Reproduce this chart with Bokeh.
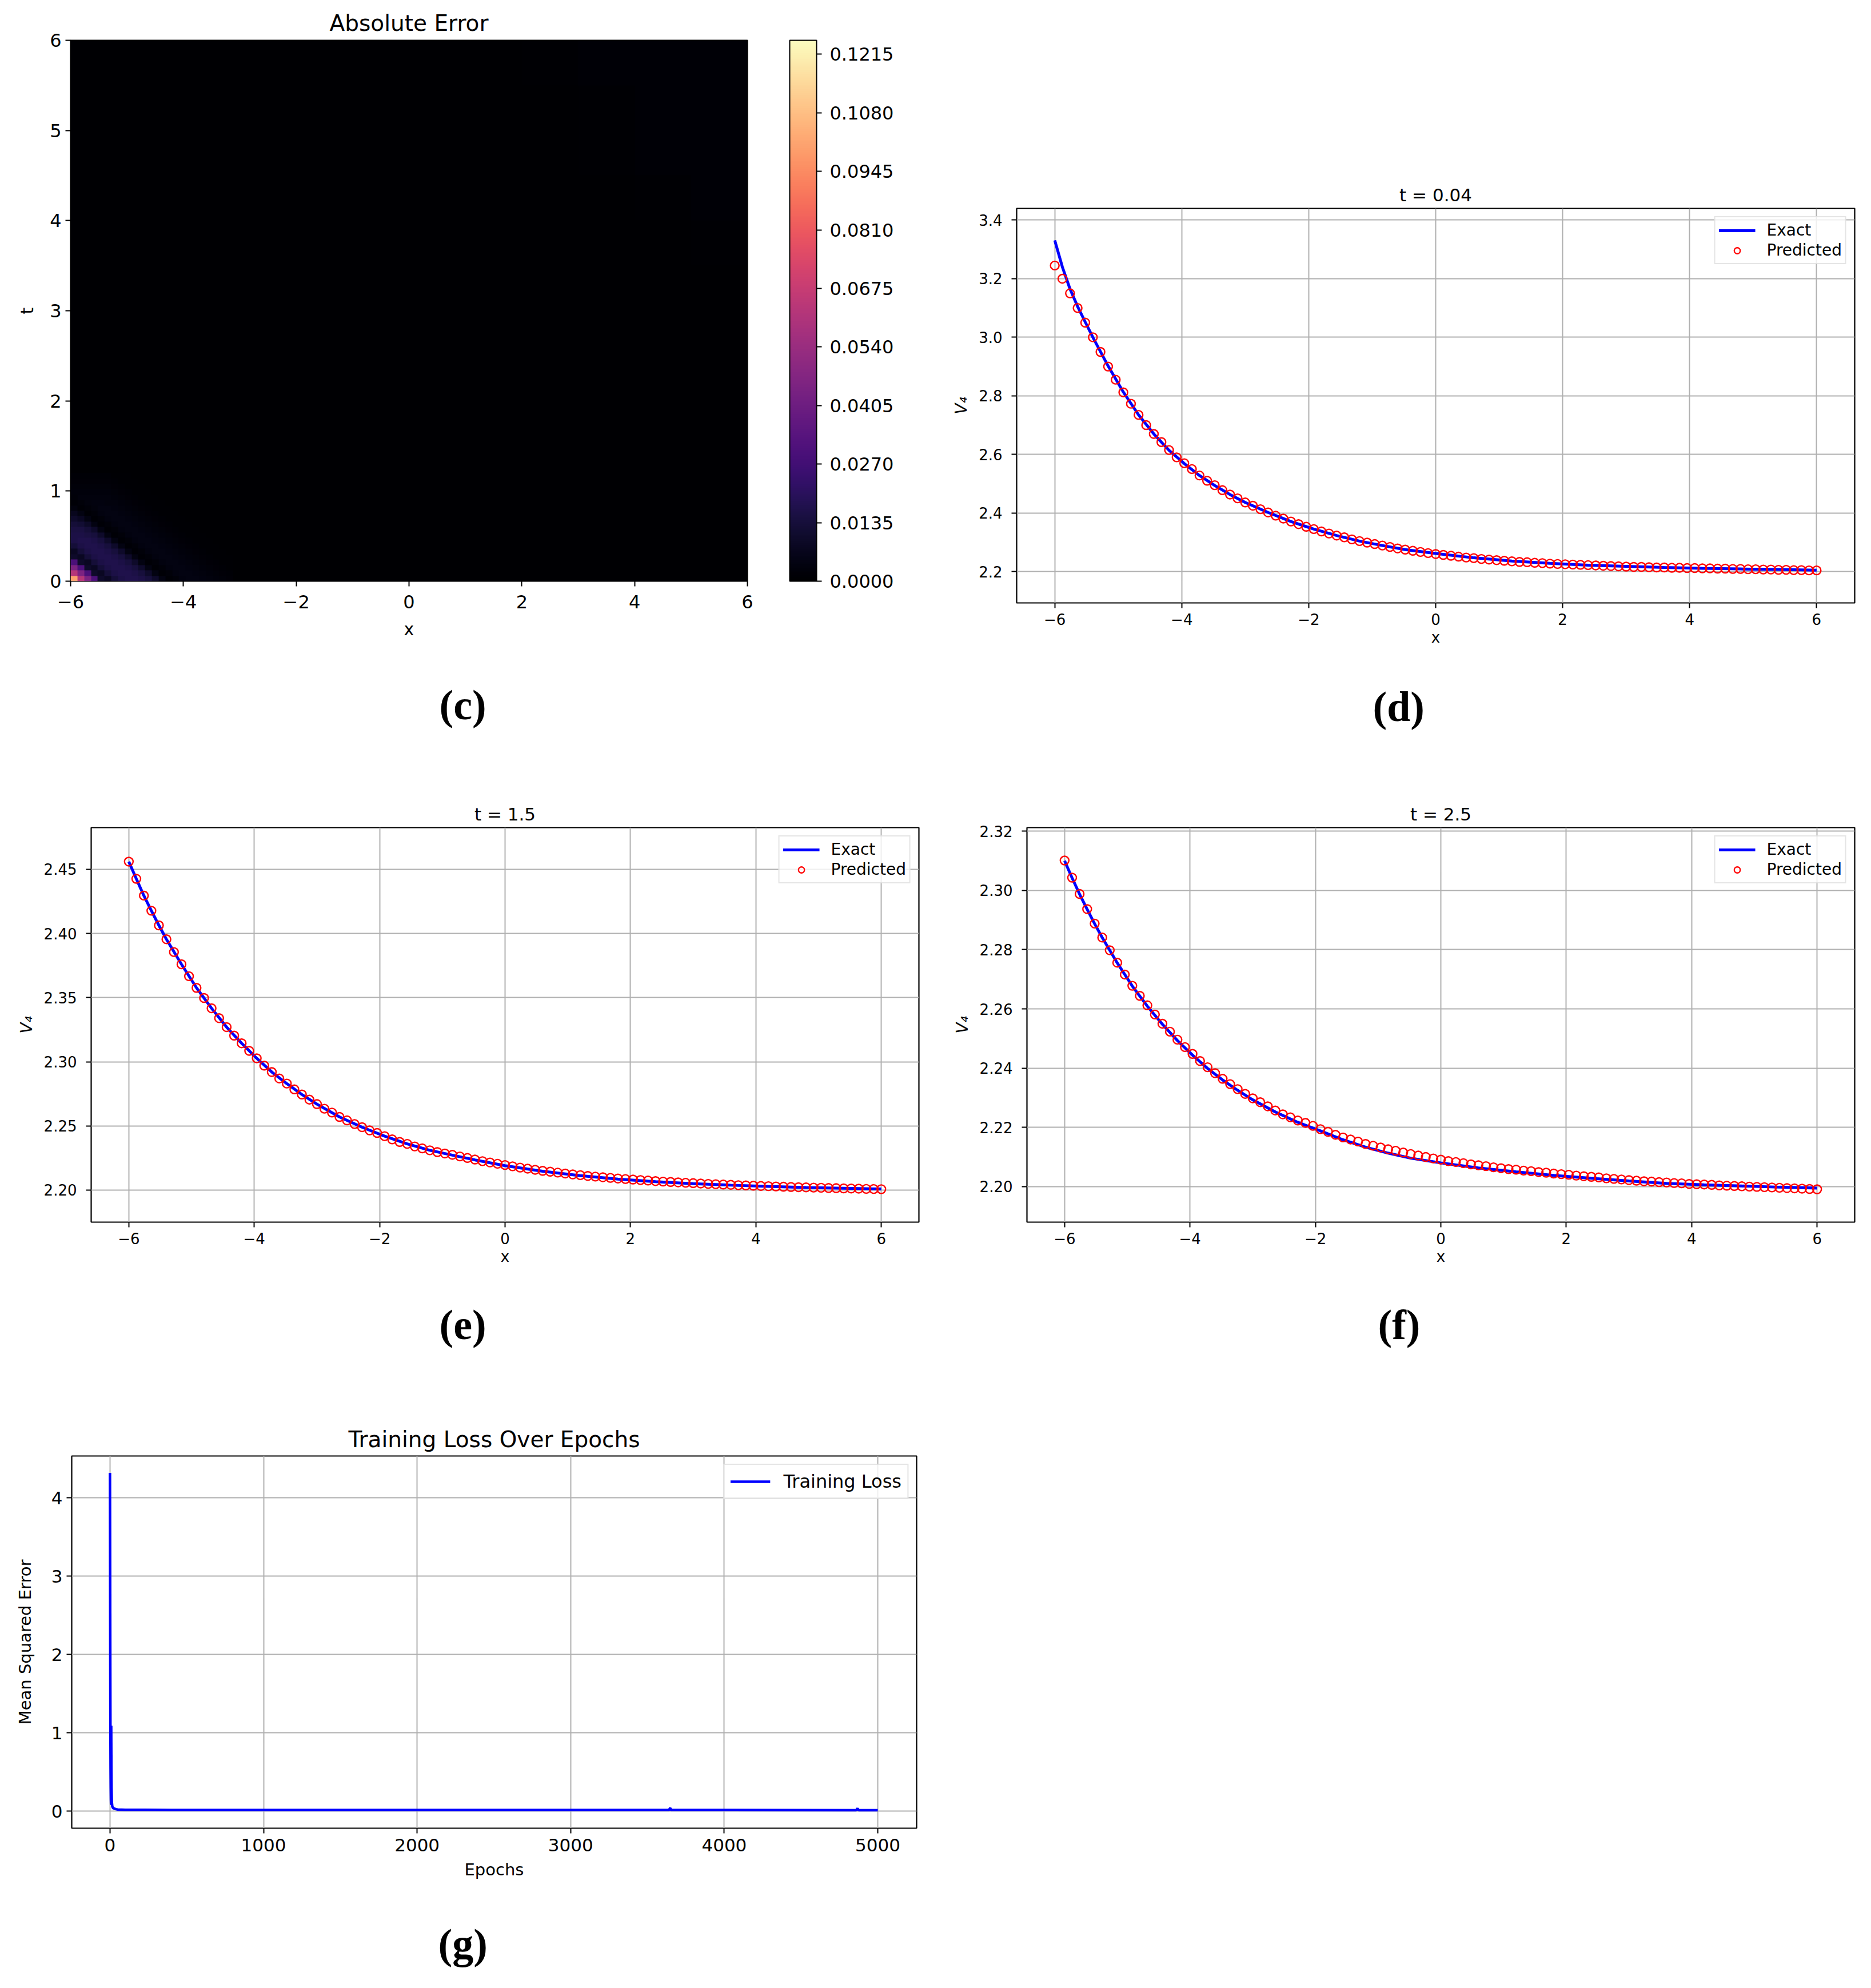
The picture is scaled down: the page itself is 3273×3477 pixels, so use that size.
# Absolute error map, V4 profiles at three times and the training loss
import numpy as np
from bokeh.embed import file_html
from bokeh.layouts import column, row
from bokeh.models import ColorBar, FixedTicker, Legend, LegendItem, LinearColorMapper, Range1d, Title
from bokeh.palettes import Magma256
from bokeh.plotting import figure
from bokeh.resources import INLINE

FONT = "DejaVu Sans"

# axis ticks
x_ticks = [-6, -4, -2, 0, 2, 4, 6]
x_labels = ["\u22126", "\u22124", "\u22122", "0", "2", "4", "6"]
t_ticks = [0, 1, 2, 3, 4, 5, 6]
t_labels = ["0", "1", "2", "3", "4", "5", "6"]
cbar_ticks = [0.0, 0.0135, 0.027, 0.0405, 0.054, 0.0675, 0.081, 0.0945, 0.108, 0.1215]
cbar_labels = ["0.0000", "0.0135", "0.0270", "0.0405", "0.0540", "0.0675", "0.0810", "0.0945", "0.1080", "0.1215"]
d_ticks = [2.2, 2.4, 2.6, 2.8, 3.0, 3.2, 3.4]
d_labels = ["2.2", "2.4", "2.6", "2.8", "3.0", "3.2", "3.4"]
e_ticks = [2.2, 2.25, 2.3, 2.35, 2.4, 2.45]
e_labels = ["2.20", "2.25", "2.30", "2.35", "2.40", "2.45"]
f_ticks = [2.2, 2.22, 2.24, 2.26, 2.28, 2.3, 2.32]
f_labels = ["2.20", "2.22", "2.24", "2.26", "2.28", "2.30", "2.32"]
g_x_ticks = [0, 1000, 2000, 3000, 4000, 5000]
g_x_labels = ["0", "1000", "2000", "3000", "4000", "5000"]
g_y_ticks = [0, 1, 2, 3, 4]
g_y_labels = ["0", "1", "2", "3", "4"]

# absolute error, in thousandths: whole domain, 1 x 0.5 cells, rows from t=0 up
error_coarse = [
    [.3, .3, .3, .3, .3, .3, .3, .3, .3, .3, .3, .3],
    [.3, .3, .3, .3, .3, .3, .3, .3, .3, .3, .3, .3],
    [.3, .3, .3, .3, .3, .3, .3, .3, .3, .3, .3, .3],
    [.3, .3, .3, .3, .3, .3, .3, .3, .3, .3, .3, .3],
    [.3, .3, .3, .3, .3, .3, .3, .3, .3, .3, .3, .3],
    [.3, .3, .3, .3, .3, .3, .3, .3, .3, .3, .3, .3],
    [.3, .3, .3, .3, .3, .3, .3, .3, .3, .3, .3, .3],
    [.3, .3, .3, .3, .3, .3, .3, .3, .3, .3, .3, .9],
    [.3, .3, .3, .3, .3, .3, .3, .3, .3, .3, .9, 1.],
    [.3, .3, .3, .3, .3, .3, .3, .3, .3, .9, 1., 1.],
    [.3, .3, .3, .3, .3, .3, .3, .3, .3, .9, 1., 1.],
    [.3, .3, .3, .3, .3, .3, .3, .3, .9, 1., 1., 1.],
]
# corner of the error map, in thousandths: 0.12 x 0.06 cells from x=-6, t=0
error_corner = [
    [100, 62, 45, 30, 10, 8, 13, 16, 17, 17, 16, 14, 10, 4, 1, 2, 3.5, 4, 4, 3.5, 3, 2.5, 2, 1.5],
    [62, 45, 30, 10, 8, 13, 16, 17, 17, 16, 14, 10, 4, 1, 2, 3.5, 4, 4, 3.5, 3, 2.5, 2, 1.5, 1],
    [45, 30, 10, 8, 13, 16, 17, 17, 16, 14, 10, 4, 1, 2, 3.5, 4, 4, 3.5, 3, 2.5, 2, 1.5, 1, .8],
    [30, 10, 8, 13, 16, 17, 17, 16, 14, 10, 4, 1, 2, 3.5, 4, 4, 3.5, 3, 2.5, 2, 1.5, 1, .8, .6],
    [10, 8, 13, 16, 17, 17, 16, 14, 10, 4, 1, 2, 3.5, 4, 4, 3.5, 3, 2.5, 2, 1.5, 1, .8, .6, .5],
    [8, 13, 16, 17, 17, 16, 14, 10, 4, 1, 2, 3.5, 4, 4, 3.5, 3, 2.5, 2, 1.5, 1, .8, .6, .5, .4],
    [13, 16, 17, 17, 16, 14, 10, 4, 1, 2, 3.5, 4, 4, 3.5, 3, 2.5, 2, 1.5, 1, .8, .6, .5, .4, .4],
    [16, 17, 17, 16, 14, 10, 4, 1, 2, 3.5, 4, 4, 3.5, 3, 2.5, 2, 1.5, 1, .8, .6, .5, .4, .4, .4],
    [16, 16, 15, 14, 10, 4, 1, 2, 3.5, 4, 4, 3.5, 3, 2.5, 2, 1.5, 1, .8, .6, .5, .4, .4, .4, .3],
    [15, 15, 13, 10, 4, 1, 2, 3.5, 4, 4, 3.5, 3, 2.5, 2, 1.5, 1, .8, .6, .5, .4, .4, .4, .3, .3],
    [13, 12, 9, 4, 1, 2, 3.5, 4, 4, 3.5, 3, 2.5, 2, 1.5, 1, .8, .6, .5, .4, .4, .4, .3, .3, .3],
    [10, 8, 4, 1, 2, 3.5, 4, 4, 3.5, 3, 2.5, 2, 1.5, 1, .8, .6, .5, .4, .4, .4, .3, .3, .3, .3],
    [7, 4, 1, 2, 3.5, 4, 4, 3.5, 3, 2.5, 2, 1.5, 1, .8, .6, .5, .4, .4, .4, .3, .3, .3, .3, .3],
    [3, 1, 2, 3, 4, 4, 3.5, 3, 2.5, 2, 1.5, 1, .8, .6, .5, .4, .4, .4, .3, .3, .3, .3, .3, .3],
    [1, 2, 3, 3.5, 3.5, 3, 3, 2.5, 2, 1.5, 1, .8, .6, .5, .4, .4, .4, .3, .3, .3, .3, .3, .3, .3],
    [2, 3, 3, 3, 3, 3, 2.5, 2, 1.5, 1, .8, .6, .5, .4, .4, .4, .3, .3, .3, .3, .3, .3, .3, .3],
    [2.5, 2.5, 2.5, 2.5, 2.5, 2.5, 2, 1.5, 1, .8, .6, .5, .4, .4, .4, .3, .3, .3, .3, .3, .3, .3, .3, .3],
    [2, 2, 2, 2, 2, 2, 1.5, 1, .8, .6, .5, .4, .4, .4, .3, .3, .3, .3, .3, .3, .3, .3, .3, .3],
    [1.5, 1.5, 1.5, 1.5, 1.5, 1.5, 1, .8, .6, .5, .4, .4, .4, .3, .3, .3, .3, .3, .3, .3, .3, .3, .3, .3],
    [1, 1, 1, 1, 1, 1, .8, .6, .5, .4, .4, .4, .3, .3, .3, .3, .3, .3, .3, .3, .3, .3, .3, .3],
]

# predicted points: x grid shared by panels d, e, f
x_pred = [
    -6.0, -5.88, -5.76, -5.64, -5.52, -5.4, -5.28, -5.16, -5.04, -4.92, -4.8, -4.68, -4.56, -4.44, -4.32, -4.2, -4.08,
    -3.96, -3.84, -3.72, -3.6, -3.48, -3.36, -3.24, -3.12, -3.0, -2.88, -2.76, -2.64, -2.52, -2.4, -2.28, -2.16, -2.04,
    -1.92, -1.8, -1.68, -1.56, -1.44, -1.32, -1.2, -1.08, -0.96, -0.84, -0.72, -0.6, -0.48, -0.36, -0.24, -0.12, 0.0,
    0.12, 0.24, 0.36, 0.48, 0.6, 0.72, 0.84, 0.96, 1.08, 1.2, 1.32, 1.44, 1.56, 1.68, 1.8, 1.92, 2.04,
    2.16, 2.28, 2.4, 2.52, 2.64, 2.76, 2.88, 3.0, 3.12, 3.24, 3.36, 3.48, 3.6, 3.72, 3.84, 3.96, 4.08,
    4.2, 4.32, 4.44, 4.56, 4.68, 4.8, 4.92, 5.04, 5.16, 5.28, 5.4, 5.52, 5.64, 5.76, 5.88, 6.0,
]
pred_d = [
    3.245, 3.2, 3.15, 3.1, 3.05, 3.0, 2.95, 2.9, 2.855, 2.812, 2.773, 2.735, 2.7, 2.67, 2.642, 2.615, 2.59,
    2.57, 2.55, 2.528, 2.51, 2.495, 2.478, 2.463, 2.45, 2.436, 2.425, 2.413, 2.402, 2.391, 2.381, 2.371, 2.362, 2.353,
    2.345, 2.337, 2.33, 2.323, 2.317, 2.31, 2.304, 2.299, 2.294, 2.289, 2.284, 2.279, 2.275, 2.271, 2.267, 2.263, 2.26,
    2.257, 2.254, 2.251, 2.248, 2.246, 2.243, 2.241, 2.239, 2.237, 2.235, 2.233, 2.232, 2.23, 2.229, 2.227, 2.226, 2.225,
    2.224, 2.223, 2.222, 2.221, 2.22, 2.219, 2.218, 2.217, 2.216, 2.216, 2.215, 2.214, 2.214, 2.213, 2.213, 2.212, 2.212,
    2.211, 2.211, 2.21, 2.21, 2.209, 2.209, 2.208, 2.208, 2.207, 2.207, 2.206, 2.206, 2.205, 2.205, 2.204, 2.204,
]
pred_e = [
    2.456, 2.4426, 2.4295, 2.4177, 2.4063, 2.3955, 2.3855, 2.376, 2.3667, 2.3576, 2.3497, 2.3417, 2.334, 2.327, 2.3204, 2.3144, 2.3085,
    2.3027, 2.297, 2.292, 2.287, 2.283, 2.2785, 2.2745, 2.2705, 2.267, 2.2634, 2.2604, 2.257, 2.2543, 2.2515, 2.249, 2.2465, 2.2445,
    2.242, 2.2395, 2.2375, 2.236, 2.234, 2.2325, 2.231, 2.2296, 2.2285, 2.2275, 2.2262, 2.225, 2.2238, 2.2225, 2.2215, 2.2205, 2.2195,
    2.2185, 2.2175, 2.2167, 2.2158, 2.215, 2.2143, 2.2136, 2.2129, 2.2122, 2.2116, 2.211, 2.2105, 2.21, 2.2095, 2.209, 2.2086, 2.2082,
    2.2078, 2.2074, 2.207, 2.2066, 2.2063, 2.206, 2.2057, 2.2054, 2.2051, 2.2048, 2.2046, 2.2043, 2.2041, 2.2038, 2.2036, 2.2034, 2.2032,
    2.203, 2.2028, 2.2026, 2.2024, 2.2022, 2.2021, 2.2019, 2.2018, 2.2016, 2.2015, 2.2013, 2.2012, 2.2011, 2.2009, 2.2008, 2.2007,
]
pred_f = [
    2.3101, 2.3043, 2.2988, 2.2937, 2.2888, 2.2841, 2.2798, 2.2756, 2.2716, 2.2678, 2.2644, 2.2612, 2.2581, 2.255, 2.2523, 2.2496, 2.2471,
    2.2448, 2.2424, 2.2403, 2.2383, 2.2364, 2.2346, 2.2329, 2.2313, 2.2298, 2.2285, 2.2271, 2.2257, 2.2244, 2.2234, 2.2223, 2.2215, 2.2205,
    2.2194, 2.2185, 2.2175, 2.2166, 2.2159, 2.2152, 2.2144, 2.2138, 2.2132, 2.2126, 2.2121, 2.2115, 2.211, 2.2105, 2.21, 2.2095, 2.2091,
    2.2086, 2.2083, 2.2079, 2.2075, 2.2072, 2.2069, 2.2065, 2.2062, 2.2059, 2.2057, 2.2054, 2.2052, 2.2049, 2.2047, 2.2044, 2.2042, 2.204,
    2.2037, 2.2035, 2.2033, 2.2031, 2.2028, 2.2026, 2.2024, 2.2022, 2.202, 2.2018, 2.2017, 2.2015, 2.2014, 2.2012, 2.2011, 2.2009, 2.2008,
    2.2007, 2.2006, 2.2004, 2.2003, 2.2002, 2.2001, 2.2, 2.1999, 2.1998, 2.1997, 2.1996, 2.1995, 2.1994, 2.1993, 2.1992, 2.1991,
]

# exact curves
x_exact = [
    -6.0, -5.88, -5.76, -5.64, -5.52, -5.4, -5.16, -4.92, -4.68, -4.44, -4.2, -3.96, -3.72, -3.48, -3.24, -3.0,
    -2.64, -2.28, -1.92, -1.56, -1.2, -0.84, -0.48, 0.0, 0.6, 1.2, 1.8, 2.4, 3.0, 3.6, 4.2, 4.8, 5.4, 6.0,
]
exact_d = [
    3.331, 3.24, 3.165, 3.105, 3.052, 3.0, 2.902, 2.813, 2.735, 2.67, 2.614, 2.569, 2.528, 2.494, 2.463, 2.436,
    2.402, 2.371, 2.345, 2.323, 2.304, 2.289, 2.275, 2.262, 2.247, 2.236, 2.228, 2.222, 2.218, 2.214, 2.211, 2.209, 2.207, 2.205,
]
exact_e = [
    2.456, 2.4426, 2.4295, 2.4177, 2.4063, 2.3955, 2.376, 2.3576, 2.3417, 2.327, 2.3144, 2.3027, 2.292, 2.283, 2.2745, 2.267,
    2.257, 2.249, 2.242, 2.236, 2.231, 2.2272, 2.2235, 2.219, 2.2147, 2.2112, 2.2085, 2.2065, 2.205, 2.2038, 2.2028, 2.202, 2.2014, 2.2008,
]
exact_f = [
    2.31, 2.3042, 2.2987, 2.2936, 2.2887, 2.2841, 2.2755, 2.2677, 2.2609, 2.2548, 2.2493, 2.2444, 2.2399, 2.236, 2.2325, 2.2293,
    2.2252, 2.2217, 2.2188, 2.2158, 2.2133, 2.2113, 2.2096, 2.208, 2.2063, 2.205, 2.2038, 2.2028, 2.2019, 2.2011, 2.2006, 2.2002, 2.1998, 2.1995,
]

# training loss
epochs = [0, 1, 2, 3, 4, 5, 6, 7, 8, 9, 10, 12, 15, 20, 30, 50, 100, 200, 400, 800, 1500, 2500, 3640, 3648, 3655, 4000, 4860, 4868, 4875, 5000]
loss = [4.32, 3.1, 1.9, 1.0, 0.55, 0.3, 0.15, 0.08, 1.09, 0.55, 0.3, 0.12, 0.06, 0.04, 0.03, 0.02, 0.016, 0.015, 0.014, 0.014, 0.013, 0.013, 0.013, 0.04, 0.013, 0.013, 0.012, 0.035, 0.012, 0.012]


def make_panel(title, xr, yr, xt, xl, yt, yl, xlabel, ylabel, left, top, fw, fh, right, bottom,
               tick_size="26px", title_size="31px", label_size="26px", ylab_standoff=11, ytick_standoff=16,
               xtick_standoff=9, xlab_standoff=4, title_standoff=12):
    p = figure(output_backend="svg", toolbar_location=None, frame_width=fw, frame_height=fh,
               x_range=Range1d(*xr), y_range=Range1d(*yr), title=title, frame_align=False,
               min_border_left=left, min_border_top=top, min_border_right=right, min_border_bottom=bottom)
    p.title.align = "center"
    p.title.text_font = FONT
    p.title.text_font_style = "normal"
    p.title.text_font_size = title_size
    p.title.text_color = "black"
    p.title.standoff = title_standoff
    p.outline_line_color = "black"
    p.outline_line_width = 2.2
    p.outline_line_alpha = 1
    for ax, ticks, labels, text in ((p.xaxis[0], xt, xl, xlabel), (p.yaxis[0], yt, yl, ylabel)):
        ax.ticker = FixedTicker(ticks=ticks)
        ax.major_label_overrides = dict(zip(ticks, labels))
        ax.major_label_text_font = FONT
        ax.major_label_text_font_size = tick_size
        ax.major_label_text_color = "black"
        ax.major_tick_in = 0
        ax.major_tick_out = 9
        ax.major_tick_line_width = 2
        ax.major_tick_line_color = "black"
        ax.minor_tick_line_color = None
        ax.axis_line_color = None
        ax.axis_label = text
        ax.axis_label_text_font = FONT
        ax.axis_label_text_font_size = label_size
        ax.axis_label_text_font_style = "normal"
        ax.axis_label_text_color = "black"
    p.yaxis[0].axis_label_standoff = ylab_standoff
    p.yaxis[0].major_label_standoff = ytick_standoff
    p.xaxis[0].axis_label_standoff = xlab_standoff
    p.xaxis[0].major_label_standoff = xtick_standoff
    p.grid.grid_line_color = "#b0b0b0"
    p.grid.grid_line_width = 2
    return p


def caption(p, text, offset, gap):
    # a blank title holds the gap under the axis, the caption sits below it
    p.add_layout(Title(text=" ", text_font_size=gap, standoff=0), "below")
    p.add_layout(Title(text=text, align="left", offset=offset, standoff=0, text_font="Liberation Serif",
                       text_font_style="bold", text_font_size="74px", text_color="black"), "below")


def style_legend(p, items, glyph_width, standoff, size, padding, spacing):
    leg = Legend(items=items, location="top_right", margin=14, padding=padding, spacing=spacing, glyph_width=glyph_width,
                 glyph_height=26, label_standoff=standoff, label_text_font=FONT, label_text_font_size=size,
                 border_line_color="#cccccc", border_line_width=2, background_fill_alpha=0.8)
    leg.label_text_color = "black"
    p.add_layout(leg)


def profile_panel(title, exact_v, pred_v, yr, yt, yl, left, top, fw, fh, right, bottom):
    p = make_panel(title, (-6.6, 6.6), yr, x_ticks, x_labels, yt, yl, "x", "V\u2084", left, top, fw, fh, right, bottom)
    p.yaxis[0].axis_label_text_font_style = "italic"
    p.yaxis[0].axis_label_text_font_size = "28px"
    line = p.line(x_exact, exact_v, color="blue", line_width=5)
    dots = p.scatter(x_pred, pred_v, size=15, marker="circle", fill_color=None, line_color="red", line_width=2.4)
    style_legend(p, [LegendItem(label="Exact", renderers=[line]), LegendItem(label="Predicted", renderers=[dots])],
                 64, 20, "28px", 6, 2)
    return p


# panel c
mapper = LinearColorMapper(palette=Magma256, low=0, high=0.1247)
pc = make_panel("Absolute Error", (-6, 6), (0, 6), x_ticks, x_labels, t_ticks, t_labels, "x", "t",
                123, 70, 1184, 946, 341, 274, tick_size="32px", title_size="39px", label_size="30px", ylab_standoff=19,
                ytick_standoff=7, xtick_standoff=15, xlab_standoff=16, title_standoff=16)
pc.grid.visible = False
pc.image(image=[np.array(error_coarse) / 1000], x=-6, y=0, dw=12, dh=6, color_mapper=mapper)
pc.image(image=[np.array(error_corner) / 1000], x=-6, y=0, dw=2.88, dh=1.2, color_mapper=mapper)
cbar = ColorBar(color_mapper=mapper, width=47, height=946, location=(1258, 0), ticker=FixedTicker(ticks=cbar_ticks),
                major_label_overrides=dict(zip(cbar_ticks, cbar_labels)), major_tick_in=0, major_tick_out=9,
                major_tick_line_color="black", major_tick_line_width=2, bar_line_color="black", bar_line_width=2,
                major_label_text_font=FONT, major_label_text_font_size="32px", major_label_text_color="black",
                label_standoff=14, padding=0, margin=0)
pc.add_layout(cbar)
caption(pc, "(c)", 645, "60px")

# panels d, e, f
pd_ = profile_panel("t = 0.04", exact_d, pred_d, (2.093, 3.44), d_ticks, d_labels, 130, 364, 1466, 690, 21, 236)
caption(pd_, "(d)", 623, "52px")
pe = profile_panel("t = 1.5", exact_e, pred_e, (2.175, 2.4825), e_ticks, e_labels, 159, 157, 1448, 690, 41, 263)
caption(pe, "(e)", 609, "50px")
pf = profile_panel("t = 2.5", exact_f, pred_f, (2.188, 2.3212), f_ticks, f_labels, 148, 157, 1448, 690, 21, 263)
caption(pf, "(f)", 614, "50px")

# panel g
pg = make_panel("Training Loss Over Epochs", (-249, 5253), (-0.218, 4.535), g_x_ticks, g_x_labels, g_y_ticks, g_y_labels,
                "Epochs", "Mean Squared Error", 125, 146, 1478, 651, 45, 263,
                tick_size="31px", title_size="39px", label_size="29px", ylab_standoff=26, ytick_standoff=7,
                xlab_standoff=12, title_standoff=14)
loss_line = pg.line(epochs, loss, color="blue", line_width=4.5)
style_legend(pg, [LegendItem(label="Training Loss", renderers=[loss_line])], 70, 23, "32px", 10, 0)
caption(pg, "(g)", 641, "58px")

page = column(row(pc, pd_), row(pe, pf), pg, spacing=0)
open("out.html", "w").write(file_html(page, INLINE))
